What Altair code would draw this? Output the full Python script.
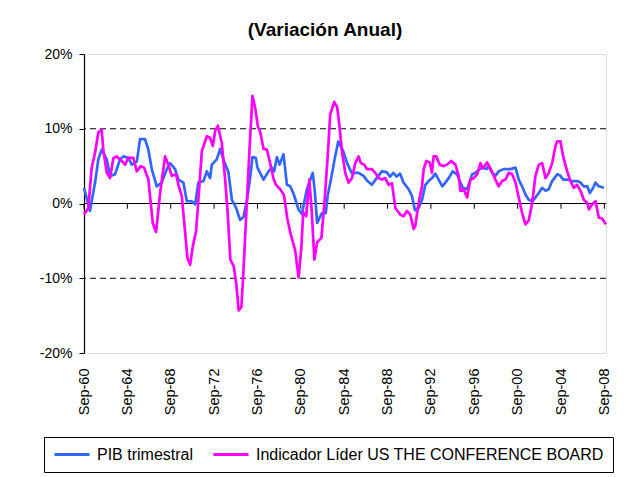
import altair as alt
import pandas as pd

S1 = "PIB trimestral"
S2 = "Indicador Líder US THE CONFERENCE BOARD"

pib_year = [1960.75, 1961.30, 1961.77, 1962.07, 1962.38, 1962.85, 1963.15, 1963.61, 1964.07, 1964.38,
            1964.84, 1965.15, 1965.62, 1965.92, 1966.38, 1966.69, 1967.00, 1967.46, 1967.92, 1968.39,
            1968.69, 1969.15, 1969.46, 1969.92, 1970.23, 1970.69, 1971.00, 1971.30, 1971.77, 1972.08,
            1972.38, 1972.54, 1973.00, 1973.31, 1973.61, 1974.07, 1974.39, 1974.78, 1975.15, 1975.46,
            1975.77, 1976.08, 1976.29, 1976.60, 1976.75, 1977.31, 1977.77, 1978.08, 1978.29, 1978.54,
            1978.79, 1979.15, 1979.47, 1979.77, 1980.08, 1980.54, 1980.85, 1981.31, 1981.85, 1982.05,
            1982.25, 1982.70, 1983.05, 1983.22, 1983.50, 1983.85, 1984.20, 1984.66, 1984.97, 1985.43,
            1986.08, 1986.54, 1986.90, 1987.30, 1987.75, 1988.22, 1988.66, 1988.98, 1989.28, 1989.59,
            1989.90, 1990.22, 1990.70, 1991.00, 1991.28, 1991.62, 1991.95, 1992.24, 1992.54, 1992.85,
            1993.16, 1993.46, 1993.80, 1994.08, 1994.39, 1994.76, 1995.16, 1995.47, 1995.70, 1996.09,
            1996.55, 1996.85, 1997.25, 1997.56, 1997.87, 1998.08, 1998.39, 1998.70, 1999.00, 1999.47,
            2000.08, 2000.55, 2000.85, 2001.16, 2001.47, 2001.77, 2002.09, 2002.39, 2002.70, 2003.01,
            2003.32, 2003.62, 2003.93, 2004.40, 2004.70, 2004.95, 2005.32, 2005.78, 2006.24, 2006.55,
            2006.85, 2007.17, 2007.41, 2007.72, 2007.93, 2008.24, 2008.70]
pib_val = [2.1, -1.0, 2.8, 5.9, 7.2, 5.9, 3.7, 3.9, 5.9, 6.3,
           6.1, 5.2, 5.6, 8.6, 8.6, 7.2, 4.6, 2.3, 2.8, 4.6,
           5.4, 4.6, 3.2, 2.8, 0.3, 0.3, -0.1, 2.8, 3.0, 4.3,
           3.4, 5.2, 5.9, 7.3, 5.9, 4.2, 0.5, -0.6, -2.2, -1.8,
           0.3, 3.5, 6.2, 6.1, 4.8, 3.2, 4.3, 4.8, 4.3, 6.2,
           5.2, 6.6, 2.5, 2.3, 1.3, -0.8, -1.4, 1.9, 4.1, 1.5,
           -2.6, -1.3, -1.3, 1.0, 3.0, 5.8, 8.3, 7.0, 5.6, 4.1,
           4.1, 3.7, 3.0, 2.5, 3.4, 4.3, 4.2, 3.6, 4.1, 3.6,
           4.0, 2.8, 1.9, 1.0, -0.9, -0.6, 0.6, 2.5, 3.0, 3.4,
           4.0, 3.2, 2.3, 2.8, 3.4, 4.3, 3.9, 2.8, 2.1, 1.9,
           3.9, 4.1, 4.6, 4.8, 4.6, 5.0, 4.1, 3.7, 4.3, 4.6,
           4.6, 4.8, 3.2, 2.3, 1.2, 0.5, 0.3, 0.8, 1.4, 2.1,
           1.7, 1.9, 3.0, 3.9, 3.7, 3.2, 3.2, 3.0, 3.0, 2.8,
           2.3, 2.3, 1.4, 2.1, 2.8, 2.3, 2.1]

lei_year = [1960.75, 1961.15, 1961.46, 1961.77, 1962.07, 1962.38, 1962.53, 1962.85, 1963.15, 1963.46,
            1963.77, 1964.23, 1964.54, 1964.84, 1965.30, 1965.62, 1965.99, 1966.29, 1966.69, 1967.09,
            1967.40, 1967.77, 1968.23, 1968.53, 1968.85, 1969.24, 1969.46, 1969.77, 1970.08, 1970.29,
            1970.54, 1970.79, 1971.09, 1971.30, 1971.62, 1972.08, 1972.38, 1972.63, 1972.85, 1973.10,
            1973.46, 1973.77, 1974.00, 1974.25, 1974.56, 1974.80, 1975.02, 1975.27, 1975.46, 1975.70,
            1976.01, 1976.29, 1976.54, 1976.79, 1977.00, 1977.31, 1977.62, 1977.92, 1978.23, 1978.45,
            1978.85, 1979.20, 1979.50, 1979.80, 1980.22, 1980.55, 1980.80, 1980.97, 1981.25, 1981.53,
            1981.75, 1982.00, 1982.25, 1982.65, 1982.95, 1983.26, 1983.46, 1983.83, 1984.10, 1984.30,
            1984.54, 1984.85, 1985.15, 1985.47, 1985.77, 1986.08, 1986.29, 1986.60, 1986.85, 1987.31,
            1987.62, 1987.92, 1988.24, 1988.54, 1988.85, 1989.16, 1989.47, 1989.93, 1990.23, 1990.54,
            1990.85, 1991.16, 1991.31, 1991.62, 1991.93, 1992.08, 1992.33, 1992.64, 1992.85, 1993.00,
            1993.25, 1993.56, 1993.93, 1994.24, 1994.61, 1995.01, 1995.31, 1995.47, 1995.77, 1996.09,
            1996.39, 1996.70, 1997.01, 1997.32, 1997.56, 1997.93, 1998.24, 1998.70, 1999.00, 1999.32,
            1999.62, 1999.93, 2000.24, 2000.55, 2000.85, 2001.16, 2001.47, 2001.77, 2002.09, 2002.39,
            2002.70, 2003.01, 2003.32, 2003.62, 2003.93, 2004.24, 2004.40, 2004.70, 2004.95, 2005.32,
            2005.62, 2005.93, 2006.24, 2006.55, 2006.85, 2007.17, 2007.32, 2007.62, 2007.93, 2008.24,
            2008.55, 2008.88]
lei_val = [-1.5, -0.6, 4.8, 6.8, 9.5, 9.9, 7.2, 4.1, 3.4, 6.1,
           6.3, 5.7, 5.2, 6.1, 6.1, 4.3, 5.0, 4.8, 3.2, -2.6,
           -3.8, 1.4, 6.3, 5.2, 3.7, 3.9, 2.5, 1.0, -3.9, -7.3,
           -8.2, -5.7, -3.7, 0.5, 7.0, 9.0, 8.8, 7.7, 9.7, 10.4,
           8.1, 3.2, -1.2, -7.5, -8.4, -10.8, -14.3, -13.8, -9.0, -1.9,
           7.0, 14.4, 12.8, 10.3, 9.6, 7.3, 7.2, 5.4, 3.3, 2.5,
           1.9, 1.1, -2.0, -4.0, -6.2, -9.9, -5.8, -1.2, -1.7, 3.2,
           -0.9, -7.5, -5.2, -4.6, 0.5, 7.0, 11.9, 13.6, 12.9, 10.6,
           7.0, 4.1, 2.8, 3.4, 5.4, 6.3, 5.4, 5.2, 4.6, 4.6,
           4.1, 3.4, 3.2, 3.4, 2.5, 2.7, -0.6, -1.5, -1.7, -1.0,
           -1.5, -3.4, -3.0, 0.1, 2.3, 4.6, 5.7, 5.5, 4.1, 6.3,
           6.3, 5.2, 5.0, 5.2, 5.7, 5.2, 3.7, 1.7, 1.9, 0.8,
           3.2, 3.4, 3.9, 5.4, 4.7, 5.5, 4.7, 3.2, 2.3, 3.0,
           3.2, 4.1, 3.9, 2.8, 0.8, -1.25, -2.8, -2.3, 0.1, 3.7,
           5.2, 5.4, 3.4, 4.1, 5.4, 7.7, 8.3, 8.3, 6.3, 4.3,
           3.0, 2.1, 2.5, 1.7, 0.5, 0.1, -0.8, -0.1, 0.3, -1.9,
           -2.0, -2.8]

tick_years = [1960.75, 1964.75, 1968.75, 1972.75, 1976.75, 1980.75, 1984.75,
              1988.75, 1992.75, 1996.75, 2000.75, 2004.75, 2008.75]
y_ticks = [-20, -10, 0, 10, 20]
grid_vals = [-10, 10]

FONT = "Liberation Sans"

df = pd.concat([
    pd.DataFrame({"year": pib_year, "val": pib_val, "series": S1, "k": 0}),
    pd.DataFrame({"year": lei_year, "val": lei_val, "series": S2, "k": 1}),
], ignore_index=True)

x_scale = alt.Scale(domain=[1960.75, 2008.9], nice=False, zero=False)
y_scale = alt.Scale(domain=[-20, 20], nice=False, zero=False)

x_axis = alt.Axis(
    values=tick_years,
    labelExpr="'Sep-' + substring(toString(floor(datum.value)), 2, 4)",
    labelAngle=-90, labelAlign="right", labelBaseline="middle",
    domain=False, ticks=False, grid=False, title=None,
    labelFont=FONT, labelFontSize=14.5, labelColor="black", labelPadding=15,
)
y_axis = alt.Axis(
    values=y_ticks, labelExpr="datum.value + '%'",
    domainColor="black", domainWidth=1.2, tickColor="black", tickSize=5,
    grid=False, title=None,
    labelFont=FONT, labelFontSize=14, labelColor="black", labelPadding=7,
)

grid = alt.Chart(pd.DataFrame({"val": grid_vals})).mark_rule(
    color="black", strokeWidth=1, strokeDash=[6, 4]
).encode(y=alt.Y("val:Q", scale=y_scale, axis=y_axis))

zero = alt.Chart(pd.DataFrame({"val": [0]})).mark_rule(
    color="black", strokeWidth=1.2
).encode(y=alt.Y("val:Q", scale=y_scale, axis=y_axis))

ticks = alt.Chart(pd.DataFrame({"year": tick_years, "val": 0, "b": -0.7})).mark_rule(
    color="black", strokeWidth=1
).encode(
    x=alt.X("year:Q", scale=x_scale, axis=x_axis),
    y=alt.Y("val:Q", scale=y_scale, axis=y_axis),
    y2="b:Q",
)

lines = alt.Chart(df).mark_line(strokeWidth=2.7, strokeJoin="round").encode(
    x=alt.X("year:Q", scale=x_scale, axis=x_axis),
    y=alt.Y("val:Q", scale=y_scale, axis=y_axis),
    color=alt.Color("series:N",
                    scale=alt.Scale(domain=[S1, S2], range=["#3366FF", "#FF00FF"]),
                    legend=alt.Legend(
                        orient="none", legendX=-40, legendY=383, direction="horizontal",
                        title=None, strokeColor="black", padding=9,
                        symbolType="stroke", symbolSize=1225, symbolStrokeWidth=3,
                        clipHeight=17,
                        labelFont=FONT, labelFontSize=16, labelColor="black",
                        labelLimit=0, columnPadding=18, labelOffset=6,
                    )),
    detail="k:N",
)

chart = alt.layer(grid, zero, ticks, lines).properties(
    width=522, height=299,
    title=alt.TitleParams("(Variación Anual)", font=FONT, fontSize=19, fontWeight="bold",
                          color="black", anchor="middle", dx=-20, frame="group", offset=7),
    autosize=alt.AutoSizeParams(type="none"),
    padding={"left": 76, "top": 46, "right": 13, "bottom": 122},
).configure_view(stroke="#808080", strokeWidth=1.5).configure(background="white")

chart.save("out.html", embed_options={"renderer": "svg", "actions": False})
